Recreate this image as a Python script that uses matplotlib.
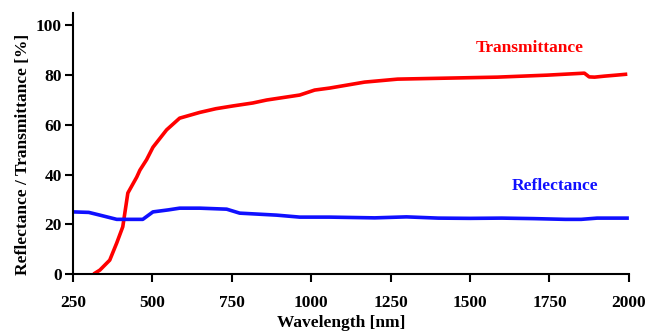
import matplotlib
matplotlib.use("Agg")
import matplotlib.pyplot as plt

# values
trans_wl = [315, 335, 366, 388, 407, 423, 451, 461, 482, 502, 545, 586, 649, 700, 753,
            816, 860, 964, 1011, 1058, 1168, 1272, 1429, 1586, 1743, 1860, 1875, 1892,
            1923, 1960, 1995]
trans_val = [0, 1.6, 5.6, 12.5, 19, 32.6, 39, 41.8, 46, 51, 58, 62.7, 65, 66.5, 67.6,
             68.8, 70, 72, 74, 74.8, 77.2, 78.4, 78.8, 79.2, 80, 80.8, 79.3, 79.2,
             79.6, 80.0, 80.4]

refl_wl = [250, 300, 335, 388, 430, 470, 502, 550, 586, 650, 734, 775, 891, 964, 1058,
           1200, 1300, 1400, 1500, 1600, 1700, 1800, 1850, 1900, 2000]
refl_val = [25, 24.8, 23.7, 22, 22, 22, 25, 25.8, 26.5, 26.5, 26.1, 24.5, 23.7, 22.9, 22.9,
            22.6, 23.0, 22.5, 22.4, 22.5, 22.3, 22.0, 22.0, 22.5, 22.5]

xticks = [250, 500, 750, 1000, 1250, 1500, 1750, 2000]
yticks = [0, 20, 40, 60, 80, 100]

serif = ["Liberation Serif", "DejaVu Serif"]

fig = plt.figure(figsize=(6.45, 3.33), dpi=100)
ax = fig.add_axes([0.113, 0.177, 0.862, 0.784])

ax.plot(trans_wl, trans_val, color="#ff0000", lw=2.6, solid_capstyle="butt")
ax.plot(refl_wl, refl_val, color="#1010ff", lw=2.6, solid_capstyle="butt")

ax.set_xlim(250, 2000)
ax.set_ylim(0, 105)
ax.set_xticks(xticks)
ax.set_yticks(yticks)

for s in ["top", "right"]:
    ax.spines[s].set_visible(False)
for s in ["left", "bottom"]:
    ax.spines[s].set_linewidth(1.5)

ax.tick_params(axis="both", direction="out", length=6, width=1.5)
ax.tick_params(axis="x", pad=9)
ax.tick_params(axis="y", pad=2)
for lab in ax.get_xticklabels() + ax.get_yticklabels():
    lab.set_family(serif)
    lab.set_fontweight("bold")
    lab.set_fontsize(12.5)

ax.set_xlabel("Wavelength [nm]", family=serif, fontweight="bold", fontsize=12.5)
ax.xaxis.set_label_coords(0.483, -0.218)
ax.xaxis.label.set_va("bottom")
ax.set_ylabel("Reflectance / Transmittance [%]", family=serif, fontweight="bold",
              fontsize=12.5)
ax.yaxis.set_label_coords(-0.075, 0.46)

ax.text(1687, 91, "Transmittance", color="#ff0000", family=serif, fontweight="bold",
        fontsize=12.5, ha="center", va="center")
ax.text(1766, 35.4, "Reflectance", color="#1010ff", family=serif, fontweight="bold",
        fontsize=12.5, ha="center", va="center")

fig.savefig("out.png", dpi=100)
